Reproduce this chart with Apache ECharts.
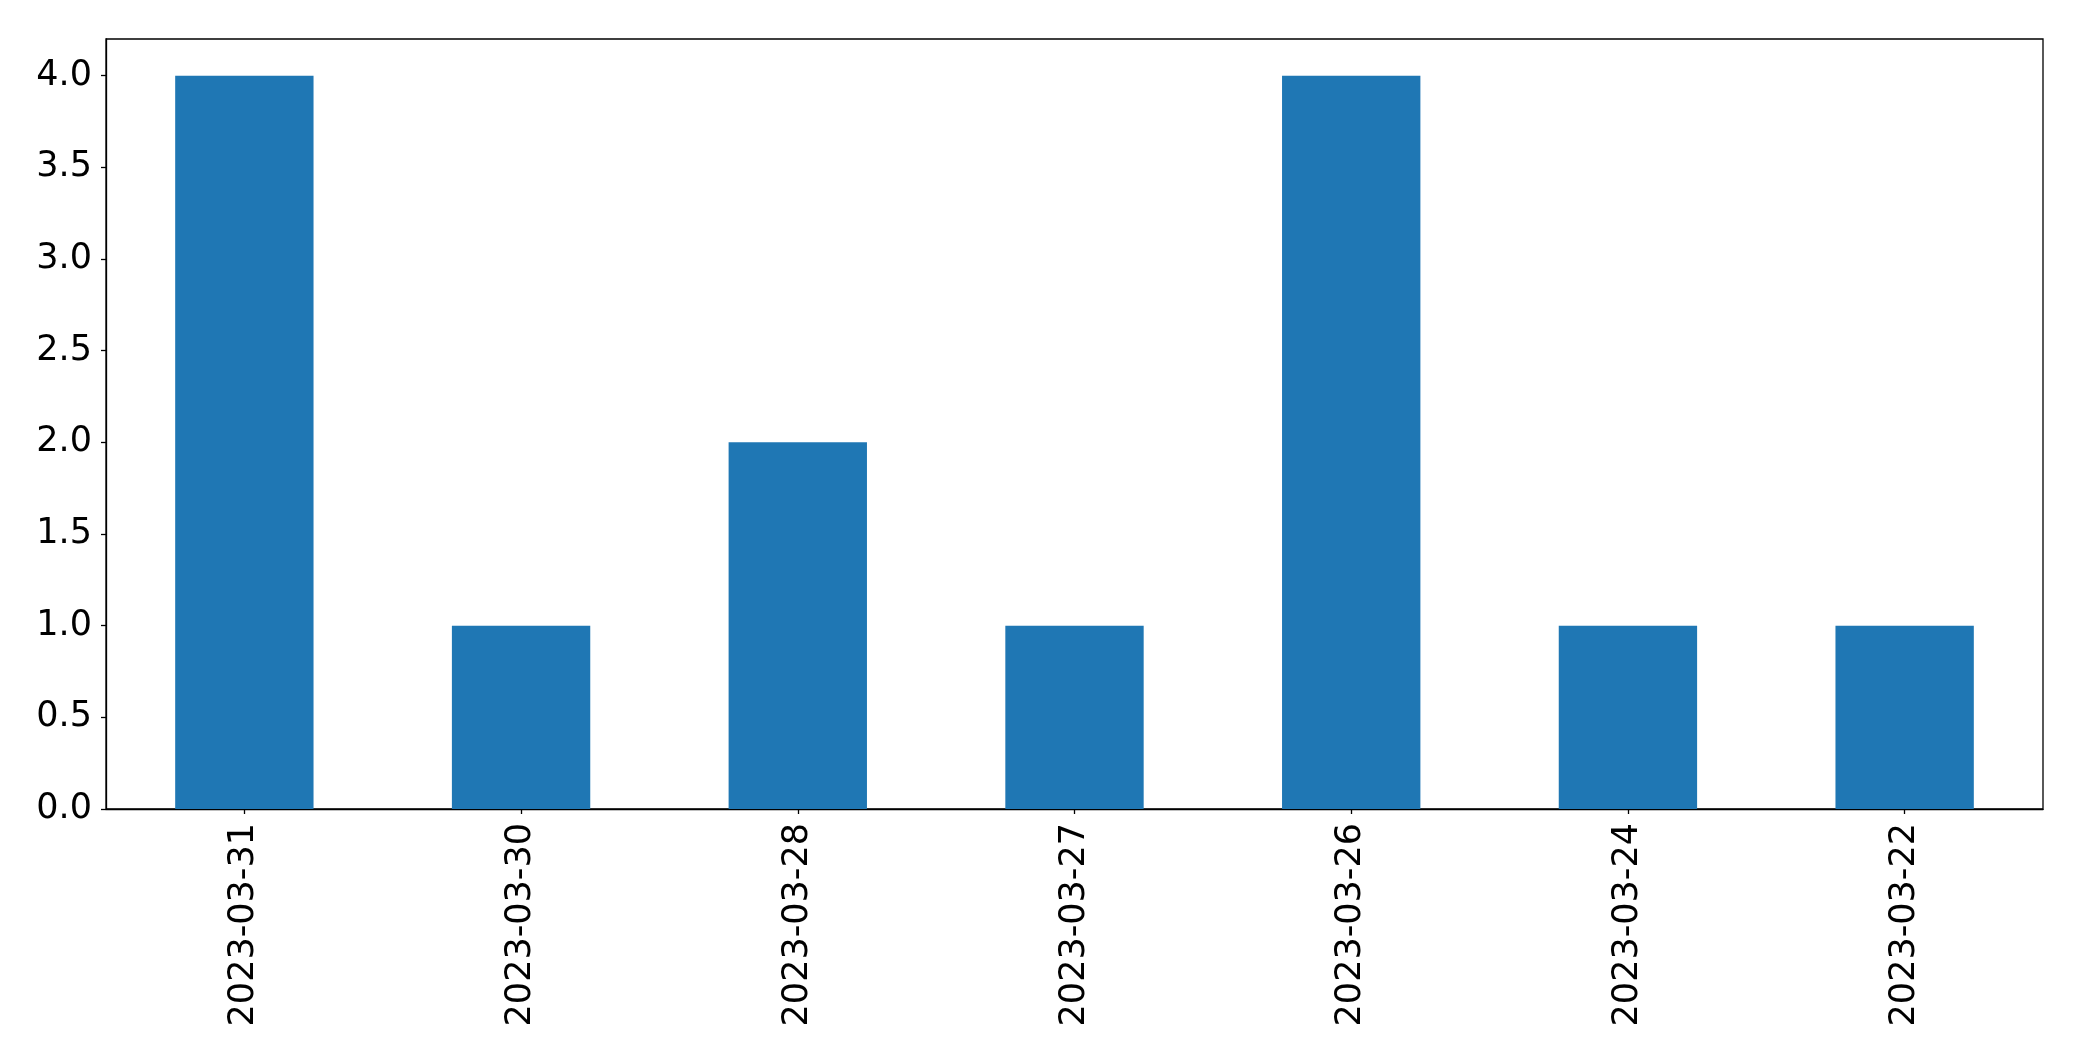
<!DOCTYPE html>
<html>
<head>
<meta charset="utf-8">
<script src="https://cdn.jsdelivr.net/npm/echarts@6/dist/echarts.min.js"></script>
<style>html,body{margin:0;padding:0;background:#fff;}#c{width:2082px;height:1061px;}</style>
</head>
<body>
<div id="c"></div>
<script>
const categories = ["2023-03-31","2023-03-30","2023-03-28","2023-03-27","2023-03-26","2023-03-24","2023-03-22"];
const values = [4, 1, 2, 1, 4, 1, 1];
const yTicks = [0, 0.5, 1, 1.5, 2, 2.5, 3, 3.5, 4];

const chart = echarts.init(document.getElementById('c'), null, {renderer: 'canvas'});
const font = "DejaVu Sans";
chart.setOption({
  animation: false,
  backgroundColor: '#ffffff',
  grid: {left: 106, right: 39, top: 39, bottom: 252, show: true, borderColor: '#000', borderWidth: 1.3, backgroundColor: 'transparent'},
  xAxis: {
    type: 'category',
    data: categories,
    axisLine: {show: true, lineStyle: {color: '#000', width: 1.3}},
    axisTick: {show: true, alignWithLabel: true, length: 5, lineStyle: {color: '#000', width: 1.3}},
    axisLabel: {rotate: 90, margin: 14, color: '#000', fontSize: 35, fontFamily: font, interval: 0},
    splitLine: {show: false}
  },
  yAxis: {
    type: 'value',
    min: 0,
    max: 4.2,
    interval: 0.5,
    axisLine: {show: true, lineStyle: {color: '#000', width: 1.3}},
    axisTick: {show: true, length: 5, lineStyle: {color: '#000', width: 1.3}},
    axisLabel: {
      margin: 14, color: '#000', fontSize: 35, fontFamily: font,
      showMaxLabel: false,
      formatter: v => yTicks.indexOf(v) >= 0 ? v.toFixed(1) : ''
    },
    splitLine: {show: false}
  },
  series: [{
    type: 'bar',
    data: values,
    barWidth: '50%',
    itemStyle: {color: '#1f77b4'}
  }]
});
</script>
</body>
</html>
